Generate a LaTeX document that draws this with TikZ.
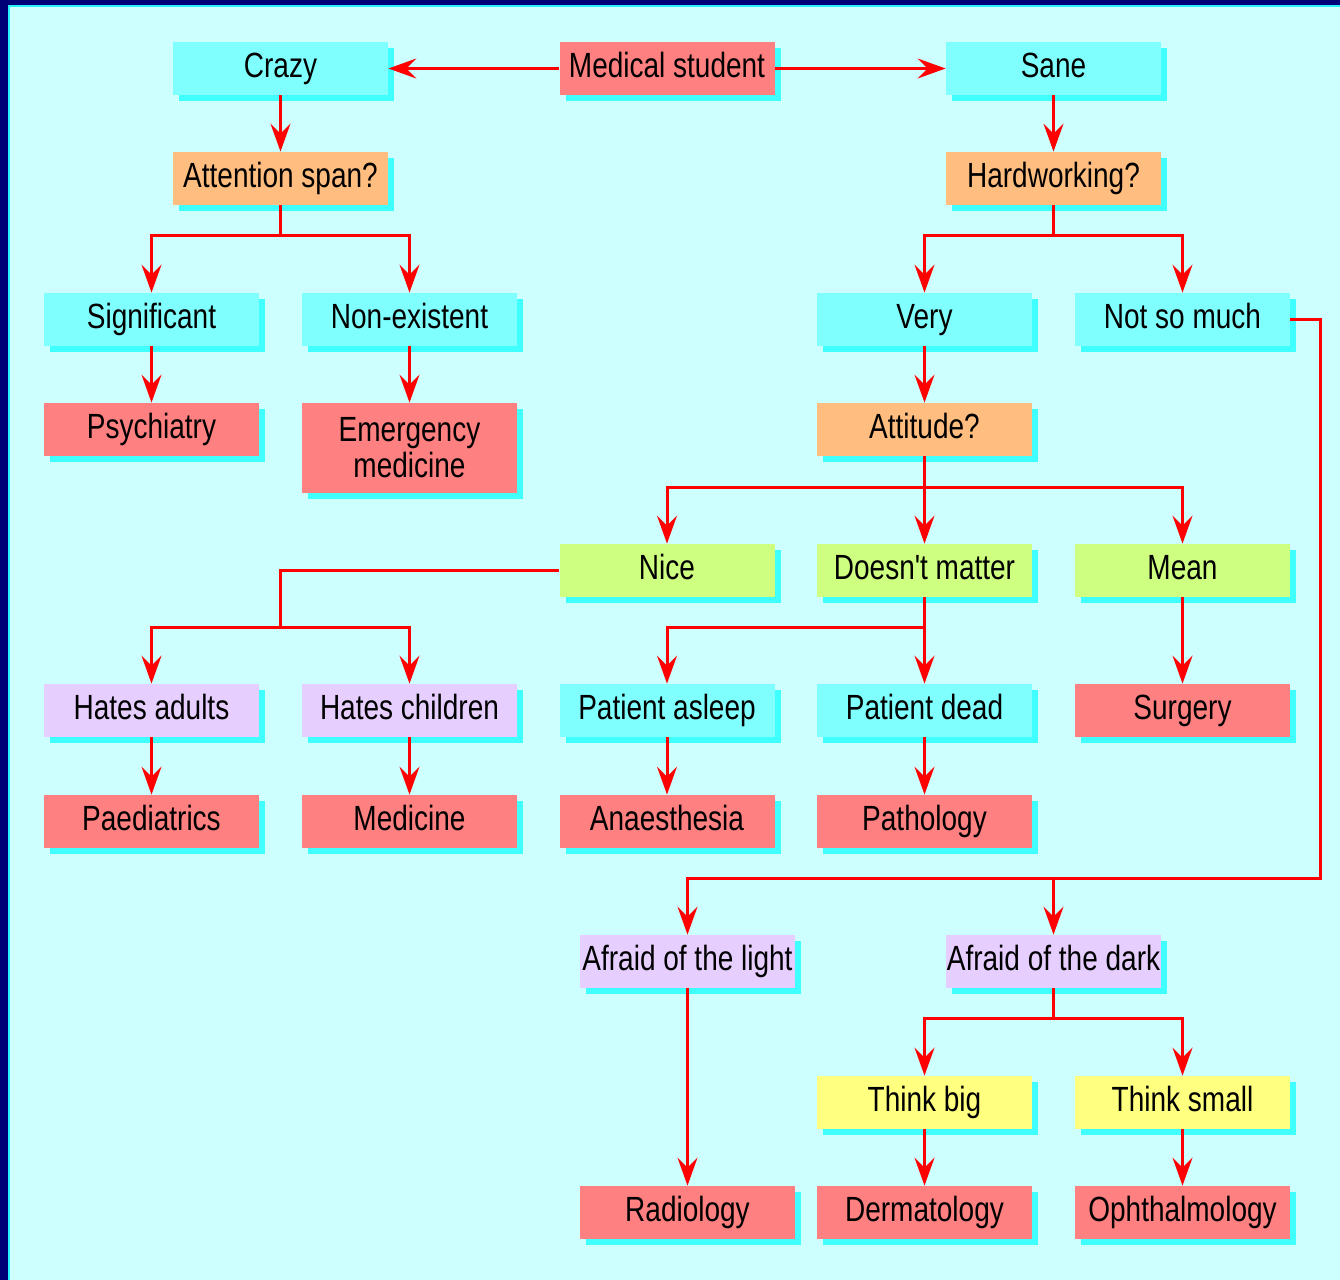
\documentclass[tikz,border=0pt]{standalone}
\usepackage{fontspec}
\setmainfont[FakeStretch=0.8, Ligatures=TeXOff]{Liberation Sans}
\usetikzlibrary{shadows,arrows.meta}
\definecolor{navyedge}{RGB}{0,0,118}
\definecolor{rimcyan}{RGB}{40,240,255}
\definecolor{bgcyan}{RGB}{206,255,255}
\definecolor{boxcyan}{RGB}{128,255,255}
\definecolor{boxred}{RGB}{255,128,128}
\definecolor{boxorange}{RGB}{255,190,128}
\definecolor{boxgreen}{RGB}{206,255,128}
\definecolor{boxlilac}{RGB}{230,206,255}
\definecolor{boxyellow}{RGB}{255,255,128}
\definecolor{shadecyan}{RGB}{64,255,255}
\definecolor{linkred}{RGB}{255,0,0}

\tikzset{
	box/.style={minimum width=107.5pt, minimum height=26.5pt, inner sep=0pt, align=center,
		text height=12.5pt, text depth=4pt,
		font=\fontsize{17.5}{18}\selectfont,
		general shadow={fill=shadecyan, shadow xshift=3pt, shadow yshift=-3pt}},
	cyanbox/.style={box, fill=boxcyan},
	redbox/.style={box, fill=boxred},
	askbox/.style={box, fill=boxorange},
	greenbox/.style={box, fill=boxgreen},
	lilacbox/.style={box, fill=boxlilac},
	yellowbox/.style={box, fill=boxyellow},
	link/.style={draw=linkred, line width=1.5pt},
	arr/.style={link, -{Stealth[length=14pt, width=10pt, inset=5pt]}}
}

\begin{document}
\begin{tikzpicture}[x=0.5pt, y=-0.5pt]
			%%%%% FRAME %%%%%
			\fill[navyedge] (0,0) rectangle (1340,1280);
			\fill[rimcyan] (8,5) rectangle (1340,1280);
			\fill[bgcyan] (10,7) rectangle (1340,1280);
			\useasboundingbox (0,0) rectangle (1340,1280);
			
			%%%%% BOXES %%%%%
			\node[redbox] (med) at (667,68.5) {Medical student};
			\node[cyanbox] (crazy) at (280.5,68.5) {Crazy};
			\node[cyanbox] (sane) at (1053.5,68.5) {Sane};
			
			\node[askbox] (att) at (280.5,178.5) {Attention span?};
			\node[askbox] (hard) at (1053.5,178.5) {Hardworking?};
			
			\node[cyanbox] (sig) at (151.5,319.5) {Significant};
			\node[cyanbox] (non) at (409.5,319.5) {Non-existent};
			\node[cyanbox] (very) at (924.5,319.5) {Very};
			\node[cyanbox] (notso) at (1182.5,319.5) {Not so much};
			
			\node[redbox] (psy) at (151.5,429.5) {Psychiatry};
			\node[redbox, minimum height=45pt, text height={}, text depth={}] (emer) at (409.5,448) {Emergency\\medicine};
			\node[askbox] (attd) at (924.5,429.5) {Attitude?};
			
			\node[greenbox] (nice) at (667,570.5) {Nice};
			\node[greenbox] (dm) at (924.5,570.5) {Doesn't matter};
			\node[greenbox] (mean) at (1182.5,570.5) {Mean};
			
			\node[lilacbox] (hadult) at (151.5,710.5) {Hates adults};
			\node[lilacbox] (hchild) at (409.5,710.5) {Hates children};
			\node[cyanbox] (asleep) at (667,710.5) {Patient asleep};
			\node[cyanbox] (dead) at (924.5,710.5) {Patient dead};
			\node[redbox] (surg) at (1182.5,710.5) {Surgery};
			
			\node[redbox] (paed) at (151.5,821.5) {Paediatrics};
			\node[redbox] (medi) at (409.5,821.5) {Medicine};
			\node[redbox] (anaes) at (667,821.5) {Anaesthesia};
			\node[redbox] (path) at (924.5,821.5) {Pathology};
			
			\node[lilacbox] (light) at (687.5,961.5) {Afraid of the light};
			\node[lilacbox] (dark) at (1053.5,961.5) {Afraid of the dark};
			
			\node[yellowbox] (big) at (924.5,1102.5) {Think big};
			\node[yellowbox] (small) at (1182.5,1102.5) {Think small};
			
			\node[redbox] (radio) at (687.5,1212.5) {Radiology};
			\node[redbox] (derm) at (924.5,1212.5) {Dermatology};
			\node[redbox] (oph) at (1182.5,1212.5) {Ophthalmology};
			
			%%%%% LINKS %%%%%
			\draw[arr] (med) -- (crazy);
			\draw[arr] (med) -- (sane);
			\draw[arr] (crazy) -- (att);
			\draw[arr] (sane) -- (hard);
			
			\draw[arr] (att.south) -- ++(0,30) -| (sig);
			\draw[arr] (att.south) -- ++(0,30) -| (non);
			\draw[arr] (hard.south) -- ++(0,30) -| (very);
			\draw[arr] (hard.south) -- ++(0,30) -| (notso);
			
			\draw[arr] (sig) -- (psy);
			\draw[arr] (non) -- (emer);
			\draw[arr] (very) -- (attd);
			
			\draw[arr] (attd.south) -- ++(0,31) -| (nice);
			\draw[arr] (attd) -- (dm);
			\draw[arr] (attd.south) -- ++(0,31) -| (mean);
			
			\coordinate (nicefork) at (280.5,627);
			\draw[link] (nice.west) -| (nicefork);
			\draw[arr] (nicefork) -| (hadult);
			\draw[arr] (nicefork) -| (hchild);
			\draw[arr] (dm.south) -- ++(0,30) -| (asleep);
			\draw[arr] (dm) -- (dead);
			\draw[arr] (mean) -- (surg);
			
			\draw[arr] (hadult) -- (paed);
			\draw[arr] (hchild) -- (medi);
			\draw[arr] (asleep) -- (anaes);
			\draw[arr] (dead) -- (path);
			
			\coordinate (notsoturn) at (1320,878);
			\draw[arr] (notso.east) -| (notsoturn) -| (light);
			\draw[arr] (notsoturn -| dark) -- (dark);
			
			\draw[arr] (light) -- (radio);
			\draw[arr] (dark.south) -- ++(0,30) -| (big);
			\draw[arr] (dark.south) -- ++(0,30) -| (small);
			\draw[arr] (big) -- (derm);
			\draw[arr] (small) -- (oph);
			
\end{tikzpicture}
\end{document}
